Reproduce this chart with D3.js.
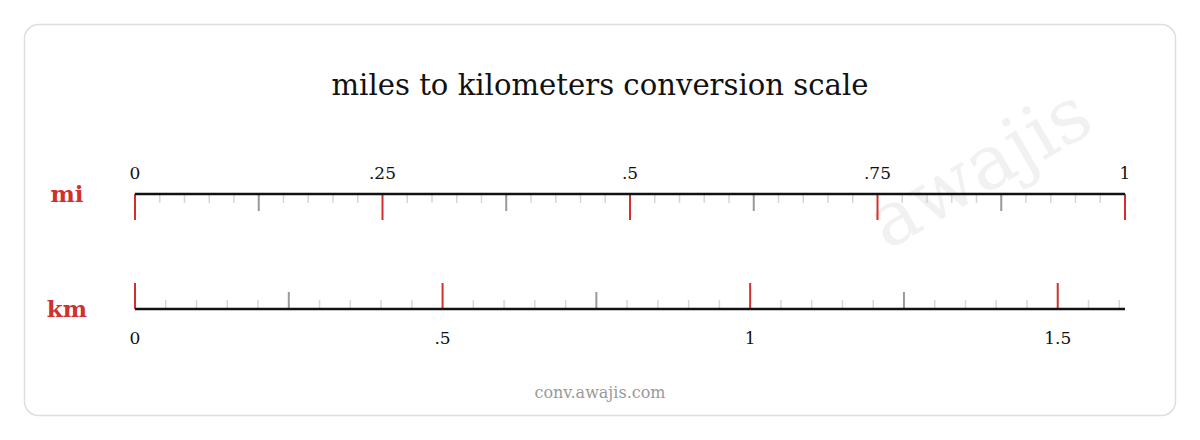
<!DOCTYPE html>
<html><head><meta charset="utf-8">
<script src="https://cdn.jsdelivr.net/npm/d3@7"></script>
<style>body{margin:0;background:#fff}svg{display:block}</style>
</head><body>
<svg id="chart" width="1200" height="440"></svg>
<script>
// mile scale: labelled ticks, minor step
var miLabels = [0, .25, .5, .75, 1];
var miStep = 0.025;
var miMid = [0.125, 0.375, 0.625, 0.875];
// km scale
var kmLabels = [0, .5, 1, 1.5];
var kmStep = 0.05;
var kmMid = [0.25, 0.75, 1.25];
var kmPerMile = 1.609344;

var svg = d3.select("#chart");
var font = "'DejaVu Serif', 'Liberation Serif', serif";
var red = "#d0312d";
var fmt = function(d){ return d === 0 ? "0" : String(d).replace(/^0\./, "."); };

svg.append("rect").attr("x", 24.5).attr("y", 24.5).attr("width", 1151).attr("height", 391)
    .attr("rx", 14).attr("fill", "#fff").attr("stroke", "#dedede").attr("stroke-width", 1.5);

svg.append("text").attr("x", 600).attr("y", 95).attr("text-anchor", "middle")
    .attr("font-family", font).attr("font-size", 29).attr("fill", "#111")
    .attr("textLength", 537).attr("lengthAdjust", "spacingAndGlyphs")
    .text("miles to kilometers conversion scale");

svg.append("text").attr("transform", "translate(992,190) rotate(-30)").attr("text-anchor", "middle")
    .attr("font-family", font).attr("font-size", 76).attr("fill", "#000").attr("opacity", 0.05)
    .text("awajis");

svg.append("text").attr("x", 600).attr("y", 398).attr("text-anchor", "middle")
    .attr("font-family", font).attr("font-size", 16).attr("fill", "#999").text("conv.awajis.com");

var x0 = 135, x1 = 1125;
var xMi = d3.scaleLinear().domain([0, 1]).range([x0, x1]);
var xKm = d3.scaleLinear().domain([0, kmPerMile]).range([x0, x1]);

function steps(max, step) {
    var out = [];
    for (var i = 0; i * step <= max + 1e-9; i++) out.push(+(i * step).toFixed(4));
    return out;
}
function kind(v, labels, mids) {
    if (labels.some(function(l){ return Math.abs(l - v) < 1e-6; })) return "major";
    if (mids.some(function(l){ return Math.abs(l - v) < 1e-6; })) return "mid";
    return "minor";
}
var len = {minor: 9, mid: 17, major: 26};
var col = {minor: "#d6d6d6", mid: "#999", major: red};

function drawScale(scale, max, step, labels, mids, y, dir, labelY, name, nameY) {
    var g = svg.append("g");
    var ticks = steps(max, step);
    g.selectAll("line.t").data(ticks).join("line")
        .attr("x1", function(d){ return scale(d); }).attr("x2", function(d){ return scale(d); })
        .attr("y1", y).attr("y2", function(d){ return y + dir * len[kind(d, labels, mids)]; })
        .attr("stroke", function(d){ return col[kind(d, labels, mids)]; })
        .attr("stroke-width", function(d){ return kind(d, labels, mids) === "minor" ? 1.5 : 2; });
    g.append("line").attr("x1", x0).attr("x2", x1).attr("y1", y).attr("y2", y)
        .attr("stroke", "#111").attr("stroke-width", 2.5);
    g.selectAll("text.l").data(labels).join("text")
        .attr("x", function(d){ return scale(d); }).attr("y", labelY).attr("text-anchor", "middle")
        .attr("font-family", font).attr("font-size", 17).attr("fill", "#111").text(fmt);
    g.append("text").attr("x", 67).attr("y", nameY).attr("text-anchor", "middle")
        .attr("font-family", font).attr("font-size", 23).attr("font-weight", "bold").attr("fill", red)
        .text(name);
}

drawScale(xMi, 1, miStep, miLabels, miMid, 194, 1, 179, "mi", 202);
drawScale(xKm, kmPerMile, kmStep, kmLabels, kmMid, 309, -1, 344, "km", 317);
</script>
</body></html>
